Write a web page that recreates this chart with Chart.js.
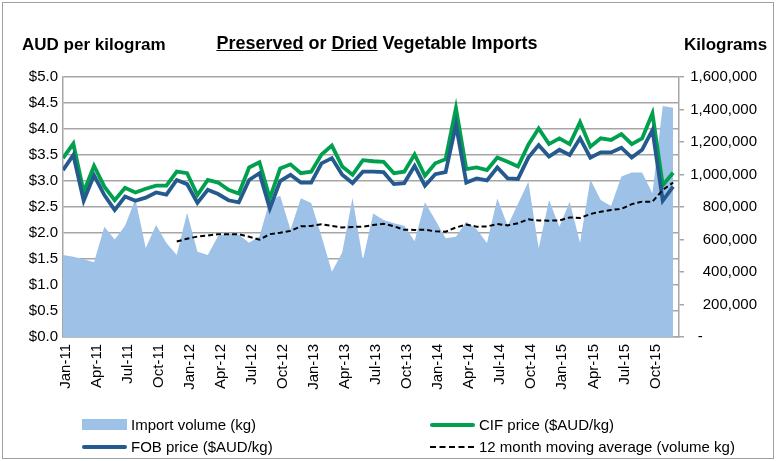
<!DOCTYPE html>
<html><head><meta charset="utf-8">
<script src="https://cdn.jsdelivr.net/npm/chart.js@4/dist/chart.umd.min.js"></script>
<style>
html,body{margin:0;padding:0;background:#fff;}
#wrap{position:relative;width:778px;height:461px;overflow:hidden;font-family:"Liberation Sans",Arial,sans-serif;color:#000;}
#frame{position:absolute;left:2px;top:2px;width:772px;height:457px;border:1px solid #a0a0a0;box-sizing:border-box;}
canvas{position:absolute;left:0;top:0;}
.hd{position:absolute;white-space:nowrap;font-weight:bold;line-height:20px;}
.lg{position:absolute;white-space:nowrap;font-size:15px;line-height:18px;}
.sw{position:absolute;}
</style></head>
<body>
<div id="wrap">
  <div id="frame"></div>
  <canvas id="c" width="778" height="461"></canvas>
  <div class="hd" style="left:22px;top:35px;font-size:17px;">AUD per kilogram</div>
  <div class="hd" style="left:0;width:754px;top:33px;font-size:18px;text-align:center;"><u>Preserved</u> or <u>Dried</u> Vegetable Imports</div>
  <div class="hd" style="left:684px;top:35px;font-size:17px;">Kilograms</div>
  <div id="legend"></div>
</div>
<script>
const months = ['Jan-11','Feb-11','Mar-11','Apr-11','May-11','Jun-11','Jul-11','Aug-11','Sep-11','Oct-11','Nov-11','Dec-11',
  'Jan-12','Feb-12','Mar-12','Apr-12','May-12','Jun-12','Jul-12','Aug-12','Sep-12','Oct-12','Nov-12','Dec-12',
  'Jan-13','Feb-13','Mar-13','Apr-13','May-13','Jun-13','Jul-13','Aug-13','Sep-13','Oct-13','Nov-13','Dec-13',
  'Jan-14','Feb-14','Mar-14','Apr-14','May-14','Jun-14','Jul-14','Aug-14','Sep-14','Oct-14','Nov-14','Dec-14',
  'Jan-15','Feb-15','Mar-15','Apr-15','May-15','Jun-15','Jul-15','Aug-15','Sep-15','Oct-15','Nov-15','Dec-15'];

const xTickIndex = [0,3,6,9,12,15,18,21,24,27,30,33,36,39,42,45,48,51,54,57];
const leftTickLabels = ['$0.0','$0.5','$1.0','$1.5','$2.0','$2.5','$3.0','$3.5','$4.0','$4.5','$5.0'];
const rightTickLabels = ['-             ','200,000','400,000','600,000','800,000','1,000,000','1,200,000','1,400,000','1,600,000'];

const cifPrice = [3.44,3.72,2.79,3.29,2.89,2.63,2.87,2.78,2.85,2.91,2.91,3.18,
  3.15,2.73,3.02,2.97,2.83,2.76,3.26,3.36,2.67,3.24,3.32,3.15,
  3.18,3.51,3.68,3.28,3.12,3.40,3.38,3.37,3.15,3.18,3.51,3.10,
  3.34,3.42,4.40,3.23,3.26,3.21,3.45,3.37,3.28,3.70,4.01,3.71,
  3.82,3.71,4.13,3.66,3.82,3.79,3.90,3.71,3.82,4.30,2.92,3.16];

const fobPrice = [3.21,3.50,2.62,3.11,2.73,2.44,2.70,2.62,2.68,2.78,2.74,3.02,
  2.94,2.58,2.83,2.75,2.63,2.59,3.02,3.15,2.47,3.00,3.12,2.97,
  2.97,3.34,3.44,3.12,2.96,3.18,3.18,3.17,2.94,2.96,3.29,2.91,
  3.13,3.17,4.08,2.97,3.05,3.01,3.26,3.05,3.04,3.45,3.69,3.47,
  3.60,3.50,3.82,3.45,3.55,3.55,3.64,3.45,3.60,3.98,2.62,2.89];

const importVolume = [504000,494000,478000,460000,679000,600000,685000,850000,547000,689000,579000,505000,
  764000,525000,505000,622000,638000,630000,580000,620000,840000,870000,660000,854000,
  824000,620000,402000,520000,855000,474000,760000,720000,700000,685000,590000,830000,
  720000,607000,617000,710000,663000,578000,853000,684000,820000,956000,546000,843000,
  679000,833000,580000,970000,843000,806000,987000,1013000,1013000,884000,1422000,1411000];

const movingAverage = [null,null,null,null,null,null,null,null,null,null,null,588000,
  605000,618000,624000,633000,633000,633000,617000,599000,633000,642000,653000,681000,
  683000,694000,684000,674000,677000,679000,689000,697000,681000,660000,659000,660000,
  650000,648000,674000,692000,679000,680000,695000,687000,700000,724000,717000,716000,
  717000,736000,732000,757000,771000,782000,788000,818000,833000,833000,905000,950000];

const FONT = '"Liberation Sans", Arial, sans-serif';
Chart.defaults.font.family = FONT;
Chart.defaults.font.size = 15;
Chart.defaults.color = '#000';

const xy = arr => arr.map((v, i) => ({x: i, y: v}));
const GRID = '#a6a6a6';

const datasets = [
  {label:'12 month moving average (volume kg)', data: xy(movingAverage), yAxisID:'y1',
   borderColor:'#000', borderWidth:2, borderDash:[5,3], pointRadius:0, fill:false, order:0, tension:0},
  {label:'FOB price ($AUD/kg)', data: xy(fobPrice), yAxisID:'y',
   borderColor:'#245a8e', borderWidth:3.8, pointRadius:0, fill:false, order:1, tension:0},
  {label:'CIF price ($AUD/kg)', data: xy(cifPrice), yAxisID:'y',
   borderColor:'#00a04f', borderWidth:3.8, pointRadius:0, fill:false, order:2, tension:0},
  {label:'Import volume (kg)', data: xy(importVolume), yAxisID:'y1',
   backgroundColor:'#9dc1e7', borderColor:'rgba(0,0,0,0)', borderWidth:0, pointRadius:0, fill:'origin', order:3, tension:0}
];

new Chart(document.getElementById('c'), {
  type:'line',
  data:{datasets},
  options:{
    responsive:false, animation:false, devicePixelRatio:1,
    layout:{padding:{top:77, bottom:64, left:0, right:21}},
    plugins:{legend:{display:false}, tooltip:{enabled:false}, title:{display:false}},
    scales:{
      x:{type:'linear', min:0, max:59.57,
        afterBuildTicks: ax => { ax.ticks = xTickIndex.map(v => ({value:v})); },
        ticks:{callback: v => months[v], autoSkip:false, minRotation:90, maxRotation:90, padding:7, labelOffset:3},
        grid:{display:false, drawTicks:false},
        border:{display:true, color:GRID, width:1.5},
        afterFit: s => { s.height = 60; }},
      y:{position:'left', min:0, max:5,
        ticks:{stepSize:0.5, callback:(v,i) => leftTickLabels[i], padding:5},
        grid:{color:GRID, lineWidth:1.5, drawTicks:false},
        border:{display:true, color:GRID, width:1.5},
        afterFit: s => { s.width = 63; }},
      y1:{position:'right', min:0, max:1600000,
        ticks:{stepSize:200000, callback:(v,i) => rightTickLabels[i], crossAlign:'far', padding:5},
        grid:{drawOnChartArea:false, drawTicks:true, tickLength:5, color:GRID, lineWidth:1.5},
        border:{display:true, color:GRID, width:1.5},
        afterFit: s => { s.width = 78; }}
    }
  }
});

// HTML legend built from the datasets
const legendPos = {
  'Import volume (kg)': [82, 416],
  'CIF price ($AUD/kg)': [430, 416],
  'FOB price ($AUD/kg)': [82, 438],
  '12 month moving average (volume kg)': [430, 438]
};
const lg = document.getElementById('legend');
datasets.forEach(ds => {
  const [x, y] = legendPos[ds.label];
  const sw = document.createElement('div');
  sw.className = 'sw';
  if (ds.fill === 'origin') {
    sw.style.cssText = `left:${x}px;top:${y+3}px;width:45px;height:11px;background:${ds.backgroundColor};`;
  } else if (ds.borderDash) {
    sw.style.cssText = `left:${x}px;top:${y+8}px;width:44px;height:0;border-top:2px dashed ${ds.borderColor};`;
  } else {
    sw.style.cssText = `left:${x}px;top:${y+7}px;width:45px;height:4px;border-radius:2px;background:${ds.borderColor};`;
  }
  lg.appendChild(sw);
  const t = document.createElement('div');
  t.className = 'lg';
  t.style.left = (x + 49) + 'px';
  t.style.top = y + 'px';
  t.textContent = ds.label;
  lg.appendChild(t);
});
</script>
</body></html>
